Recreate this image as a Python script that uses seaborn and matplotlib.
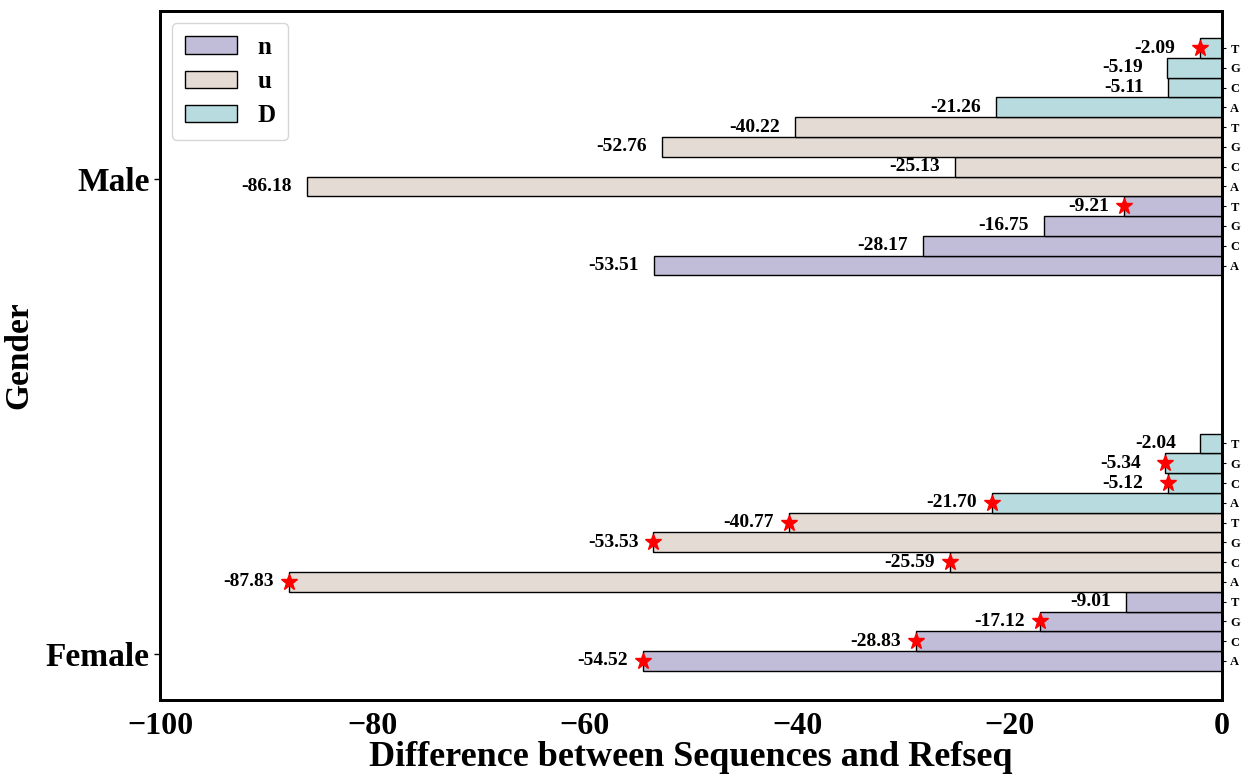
import matplotlib
matplotlib.use("Agg")
import matplotlib.pyplot as plt
import seaborn as sns
import pandas as pd
import numpy as np

# ---- data ----
genders = ["Female", "Male"]
groups = ["n", "u", "D"]
bases = ["A", "C", "G", "T"]
male_n = [-53.51, -28.17, -16.75, -9.21]
male_u = [-86.18, -25.13, -52.76, -40.22]
male_D = [-21.26, -5.11, -5.19, -2.09]
female_n = [-54.52, -28.83, -17.12, -9.01]
female_u = [-87.83, -25.59, -53.53, -40.77]
female_D = [-21.70, -5.12, -5.34, -2.04]
male_star_n = [False, False, False, True]
male_star_u = [False, False, False, False]
male_star_D = [False, False, False, True]
female_star_n = [True, True, True, False]
female_star_u = [True, True, True, True]
female_star_D = [True, True, True, False]
palette = {"n": "#BEB8DC", "u": "#E7DAD2", "D": "#B0E0E6"}

sns.set_style("white")
plt.rcParams["font.family"] = ["Liberation Serif", "DejaVu Serif"]
plt.rcParams["font.weight"] = "bold"
plt.rcParams["text.color"] = "black"
plt.rcParams["axes.labelcolor"] = "black"
plt.rcParams["xtick.color"] = "black"
plt.rcParams["ytick.color"] = "black"
plt.rcParams["axes.edgecolor"] = "black"

rows = []
vals_by = {"Male": [male_n, male_u, male_D], "Female": [female_n, female_u, female_D]}
stars_by = {"Male": [male_star_n, male_star_u, male_star_D],
            "Female": [female_star_n, female_star_u, female_star_D]}
base_pos = {"Female": 0, "Male": 20}
for g in genders:
    k = 0
    for gi, grp in enumerate(groups):
        for bi, b in enumerate(bases):
            rows.append(dict(gender=g, group=grp, base=b,
                             value=vals_by[g][gi][bi], star=stars_by[g][gi][bi],
                             pos=base_pos[g] + k))
            k += 1
df = pd.DataFrame(rows)

fig = plt.figure(figsize=(12.45, 7.76), dpi=100)
ax = fig.add_axes([0.1285, 0.098, 0.853, 0.888])

sns.barplot(data=df, x="value", y="pos", hue="group", hue_order=groups,
            orient="h", native_scale=True, dodge=False, width=1.0,
            palette=palette, edgecolor="black", linewidth=1.0,
            errorbar=None, ax=ax)

# stars
sd = df[df["star"]]
ax.plot(sd["value"], sd["pos"], ls="none", marker="*", color="red",
        markersize=12, zorder=5)

# value labels
for _, r in df.iterrows():
    gap = 17.5 if abs(r["value"]) < 6 else 10.8
    ax.annotate(f"{r['value']:.2f}", xy=(r["value"], r["pos"]),
                xytext=(-gap, 0), textcoords="offset points",
                ha="right", va="center", fontsize=14, fontweight="bold",
                color="black")

ylim = (-1.97, 32.88)
ax.set_xlim(-100, 0)
ax.set_ylim(*ylim)
ax.set_xticks([-100, -80, -60, -40, -20, 0])
ax.tick_params(axis="x", labelsize=23, direction="out", length=5, width=1.2,
               colors="black")
ax.set_yticks([0.35, 24.4])
ax.set_yticklabels(["Female", "Male"], fontsize=24, fontweight="bold")
ax.tick_params(axis="y", direction="out", length=4, width=1.0, colors="black")
for lab in ax.get_xticklabels():
    lab.set_fontweight("bold")
ax.set_xlabel("Difference between Sequences and Refseq", fontsize=26,
              fontweight="bold", labelpad=0, color="black")
ax.set_ylabel("Gender", fontsize=24, fontweight="bold", labelpad=8,
              color="black")
for s in ax.spines.values():
    s.set_linewidth(2)
    s.set_color("black")

# right-side base labels
tw = ax.twinx()
tw.set_ylim(*ylim)
tw.set_yticks(df["pos"].tolist())
tw.set_yticklabels(df["base"].tolist(), fontsize=9, fontweight="bold")
tw.tick_params(axis="y", direction="out", length=3, width=0.8, pad=3,
               colors="black")
for s in tw.spines.values():
    s.set_linewidth(2)
    s.set_color("black")

# legend
handles, labels = ax.get_legend_handles_labels()
leg = ax.legend(handles, labels, loc="upper left",
                prop={"weight": "bold", "size": 18}, frameon=True,
                borderpad=0.5, labelspacing=0.45, handlelength=2.1,
                handleheight=0.7, handletextpad=0.8)
leg.get_frame().set_edgecolor("#cccccc")
for h in leg.legend_handles:
    h.set_edgecolor("black")

fig.savefig("out.png", dpi=100)
